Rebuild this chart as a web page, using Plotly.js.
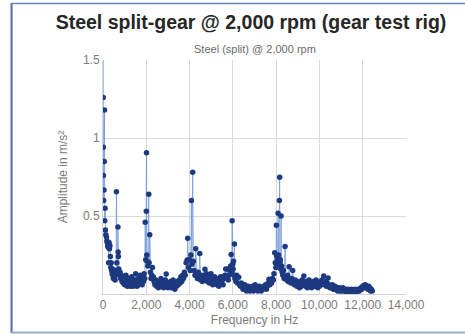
<!DOCTYPE html>
<html>
<head>
<meta charset="utf-8">
<script src="https://cdn.plot.ly/plotly-3.0.1.min.js"></script>
<style>html,body{margin:0;padding:0;background:#fff;}#chart{width:465px;height:334px;}</style>
</head>
<body>
<div id="chart"></div>
<script>
// ---- Data (frequency in Hz, amplitude in m/s²) ----
const chartTitle = "Steel split-gear @ 2,000 rpm (gear test rig)";
const subTitle = "Steel (split) @ 2,000 rpm";
const xTitle = "Frequency in Hz";
const yTitle = "Amplitude in m/s²";
const xTickVals = [0, 2000, 4000, 6000, 8000, 10000, 12000, 14000];
const xTickText = ["0", "2,000", "4,000", "6,000", "8,000", "10,000", "12,000", "14,000"];
const yTickVals = [0.5, 1, 1.5];
const yTickText = ["0.5", "1", "1.5"];

// low-frequency decay (0–600 Hz)
const fA = [0,10,15,20,30,45,60,70,80,95,110,130,160,180,200,220,240,260,280,300,320,340,360,380,400,420,440,460,480,500,520,540,560,580,600];
const aA = [1.95,1.26,0.94,0.76,0.60,0.667,0.85,1.18,0.47,0.55,0.41,0.38,0.365,0.34,0.33,0.31,0.30,0.20,0.33,0.29,0.31,0.24,0.17,0.20,0.15,0.13,0.16,0.12,0.10,0.14,0.11,0.13,0.09,0.12,0.15];
// 620–1900 Hz
const fB = [620,640,660,690,700,710,730,760,790,820,850,880,910,940,970,1000,1030,1060,1090,1120,1150,1180,1210,1240,1270,1300,1330,1360,1390,1420,1450,1480,1510,1540,1570,1600,1630,1660,1690,1720,1750,1780,1810,1840,1870,1900];
const aB = [0.656,0.20,0.15,0.43,0.27,0.24,0.16,0.12,0.14,0.10,0.12,0.08,0.11,0.07,0.10,0.06,0.09,0.12,0.07,0.05,0.08,0.10,0.06,0.09,0.05,0.07,0.11,0.08,0.05,0.07,0.09,0.06,0.13,0.08,0.05,0.07,0.10,0.06,0.08,0.12,0.07,0.09,0.06,0.10,0.08,0.13];
// 2,000 Hz peak
const fC = [1930,1950,1975,2000,2010,2025,2040,2070,2115,2130,2160,2190,2220,2250,2285];
const aC = [0.10,0.46,0.22,0.53,0.906,0.25,0.21,0.18,0.64,0.20,0.38,0.14,0.10,0.12,0.17];
// 2,320–3,760 Hz
const fD = [2320,2360,2400,2440,2480,2520,2560,2600,2640,2680,2720,2760,2800,2840,2880,2920,2960,3000,3040,3080,3120,3160,3200,3240,3280,3320,3360,3400,3440,3480,3520,3560,3600,3640,3680,3720,3760];
const aD = [0.11,0.08,0.06,0.09,0.05,0.07,0.04,0.08,0.06,0.10,0.05,0.07,0.04,0.06,0.09,0.128,0.06,0.04,0.07,0.05,0.08,0.04,0.06,0.09,0.05,0.03,0.07,0.05,0.08,0.06,0.09,0.07,0.11,0.08,0.12,0.10,0.14];
// 4,000 Hz peak
const fE = [3800,3840,3888,3915,3950,3990,4030,4060,4085,4110,4145,4175,4210,4250,4285,4320,4360,4400,4440,4470,4510,4550,4590];
const aE = [0.12,0.20,0.218,0.357,0.17,0.22,0.15,0.25,0.60,0.19,0.78,0.21,0.15,0.12,0.29,0.13,0.10,0.14,0.11,0.26,0.09,0.12,0.08];
// 4,630–5,670 Hz
const fF = [4630,4670,4710,4750,4790,4830,4870,4910,4950,4990,5030,5070,5110,5150,5190,5230,5270,5310,5350,5390,5430,5470,5510,5550,5590,5630,5670];
const aF = [0.09,0.12,0.158,0.10,0.13,0.08,0.11,0.07,0.10,0.13,0.08,0.06,0.09,0.11,0.07,0.10,0.06,0.09,0.05,0.08,0.11,0.07,0.09,0.06,0.10,0.12,0.16];
// 6,000 Hz peak
const fG = [5710,5750,5790,5830,5870,5900,5920,5945,5966,5990,6010,6030,6050,6072,6100,6140,6180,6220,6270,6310,6350,6390];
const aG = [0.10,0.16,0.09,0.12,0.15,0.18,0.254,0.14,0.47,0.19,0.16,0.21,0.12,0.32,0.10,0.08,0.12,0.07,0.107,0.06,0.05,0.07];
// 6,430–7,870 Hz
const fH = [6430,6470,6510,6550,6590,6630,6670,6710,6750,6790,6830,6870,6910,6950,6990,7030,7070,7110,7150,7190,7230,7270,7310,7350,7390,7430,7470,7510,7550,7590,7630,7670,7710,7750,7790,7830,7870];
const aH = [0.05,0.03,0.04,0.06,0.03,0.02,0.04,0.05,0.03,0.02,0.04,0.03,0.05,0.02,0.03,0.06,0.04,0.03,0.02,0.04,0.05,0.03,0.02,0.04,0.03,0.05,0.04,0.06,0.03,0.05,0.07,0.094,0.06,0.08,0.07,0.10,0.09];
// 8,000 Hz peak cluster
const fI = [7900,7933,7960,7990,8011,8025,8050,8070,8090,8110,8130,8150,8163,8180,8195,8210,8228,8250,8280,8310,8340,8370,8413,8450,8490,8530,8560,8598,8640,8680,8720,8764,8800,8840,8880];
const aI = [0.13,0.265,0.20,0.17,0.44,0.244,0.19,0.22,0.517,0.25,0.21,0.60,0.748,0.20,0.22,0.16,0.50,0.18,0.14,0.12,0.15,0.10,0.305,0.11,0.09,0.12,0.08,0.175,0.09,0.07,0.10,0.15,0.08,0.06,0.09];
// 8,920–10,480 Hz
const fJ = [8920,8960,9000,9040,9080,9120,9160,9200,9240,9280,9320,9360,9400,9440,9480,9520,9560,9600,9640,9680,9720,9760,9800,9840,9880,9920,9960,10000,10040,10080,10120,10160,10200,10240,10280,10320,10360,10400,10440,10480];
const aJ = [0.07,0.05,0.08,0.06,0.04,0.07,0.05,0.09,0.06,0.115,0.07,0.05,0.08,0.04,0.06,0.09,0.05,0.07,0.04,0.06,0.08,0.05,0.07,0.09,0.06,0.04,0.07,0.05,0.08,0.06,0.09,0.07,0.115,0.06,0.08,0.05,0.07,0.103,0.06,0.04];
// 10,520–12,440 Hz
const fK = [10520,10560,10600,10640,10680,10720,10760,10800,10840,10880,10920,10960,11000,11040,11080,11120,11160,11200,11240,11280,11320,11360,11400,11440,11480,11520,11560,11600,11640,11680,11720,11760,11800,11840,11880,11920,11960,12000,12040,12080,12120,12160,12200,12240,12280,12320,12360,12400,12440];
const aK = [0.05,0.04,0.06,0.03,0.04,0.05,0.03,0.04,0.02,0.03,0.04,0.02,0.03,0.02,0.04,0.03,0.02,0.03,0.01,0.02,0.03,0.02,0.01,0.02,0.03,0.02,0.01,0.02,0.03,0.02,0.01,0.02,0.03,0.02,0.03,0.04,0.03,0.05,0.04,0.056,0.06,0.04,0.05,0.03,0.05,0.04,0.02,0.03,0.02];

const freqHz = [].concat(fA, fB, fC, fD, fE, fF, fG, fH, fI, fJ, fK);
const amplitude = [].concat(aA, aB, aC, aD, aE, aF, aG, aH, aI, aJ, aK);

// ---- Layout geometry ----
const W = 465, H = 334;
const mL = 102.5, mR = 59.3, mT = 59.5, mB = 40;
const plotW = W - mL - mR, plotH = H - mT - mB;
const px2paperX = p => (p - mL) / plotW;
const px2paperY = p => (H - mB - p) / plotH;

const font = "Liberation Sans, Arial, Helvetica, sans-serif";

const trace = {
  type: "scatter",
  mode: "lines+markers",
  x: freqHz,
  y: amplitude,
  line: {color: "rgba(110,150,215,0.75)", width: 1},
  marker: {color: "#1d3a80", size: 5.5},
  cliponaxis: true,
  hoverinfo: "x+y"
};

const layout = {
  width: W, height: H,
  margin: {l: mL, r: mR, t: mT, b: mB, pad: 0},
  paper_bgcolor: "#ffffff",
  plot_bgcolor: "#ffffff",
  showlegend: false,
  font: {family: font, color: "#7a7a7a", size: 12},
  title: {
    text: "<b>" + chartTitle + "</b>",
    font: {family: font, size: 19.5, color: "#262626"},
    xref: "container", yref: "container",
    x: 251 / W, xanchor: "center",
    y: 1 - 22 / H, yanchor: "middle"
  },
  xaxis: {
    range: [0, 14000],
    tickvals: xTickVals, ticktext: xTickText,
    showgrid: true, gridcolor: "#dadada", gridwidth: 1,
    zeroline: false,
    showline: true, linecolor: "#d4d4d4", linewidth: 1,
    ticks: "", tickfont: {size: 12, color: "#7a7a7a"},
    title: {text: xTitle, font: {size: 12, color: "#7a7a7a"}, standoff: 4},
    fixedrange: true
  },
  yaxis: {
    range: [0, 1.5],
    tickvals: yTickVals, ticktext: yTickText,
    showgrid: true, gridcolor: "#dadada", gridwidth: 1,
    zeroline: false,
    showline: true, linecolor: "#d4d4d4", linewidth: 1,
    ticks: "", tickfont: {size: 12, color: "#7a7a7a"},
    title: {text: yTitle, font: {size: 12, color: "#7a7a7a"}, standoff: 12},
    fixedrange: true
  },
  annotations: [{
    text: subTitle,
    xref: "paper", yref: "paper",
    x: 0.5, xanchor: "center",
    y: px2paperY(48), yanchor: "middle",
    showarrow: false,
    font: {family: font, size: 11, color: "#6a6a6a"}
  }],
  shapes: [
    {type: "line", xref: "paper", yref: "paper", x0: px2paperX(11), x1: px2paperX(11), y0: px2paperY(3), y1: px2paperY(333), line: {color: "#4e6da8", width: 2}},
    {type: "line", xref: "paper", yref: "paper", x0: px2paperX(10), x1: px2paperX(466), y0: px2paperY(3), y1: px2paperY(3), line: {color: "#6884b8", width: 1.5}},
    {type: "line", xref: "paper", yref: "paper", x0: px2paperX(10), x1: px2paperX(466), y0: px2paperY(332.5), y1: px2paperY(332.5), line: {color: "#9cadcc", width: 2}}
  ]
};

Plotly.newPlot("chart", [trace], layout, {displayModeBar: false, staticPlot: true});
</script>
</body>
</html>
